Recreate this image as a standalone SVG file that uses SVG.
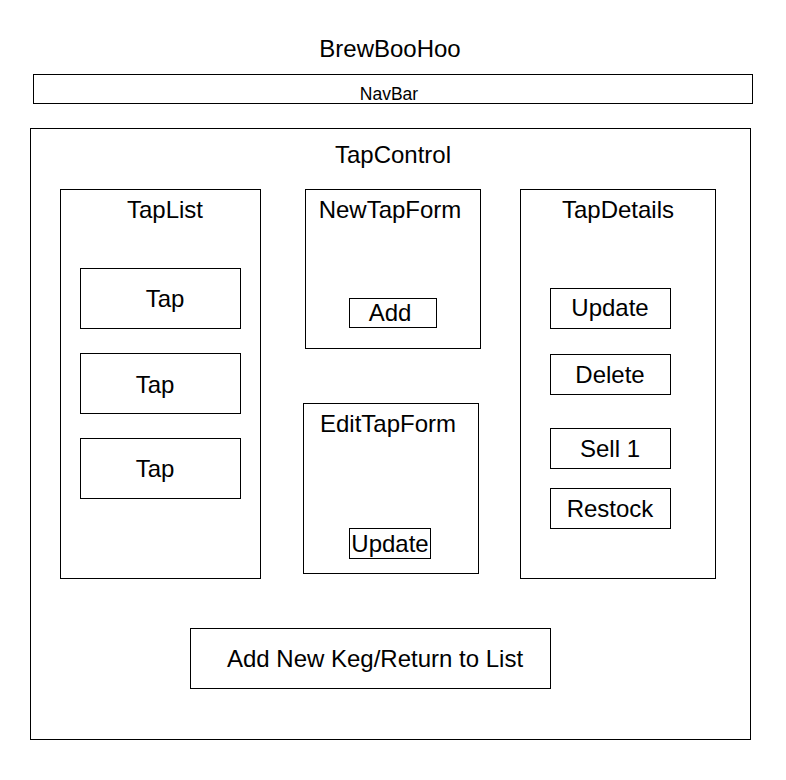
<svg xmlns="http://www.w3.org/2000/svg" width="786" height="780" viewBox="0 0 786 780">
<style>
rect{fill:#fff;stroke:#000;stroke-width:1}
text{font-family:"Liberation Sans",Arial,sans-serif;font-size:24px;fill:#000;text-anchor:middle}
.s{font-size:17.5px}
</style>
<rect x="0" y="0" width="786" height="780" style="stroke:none"/>
<g id="title"><text x="390" y="57">BrewBooHoo</text></g>
<g id="navbar"><rect x="33.5" y="74.5" width="719" height="29"/><text class="s" x="389" y="100">NavBar</text></g>
<g id="tapcontrol"><rect x="30.5" y="128.5" width="720" height="611"/><text x="393" y="163">TapControl</text></g>
<g id="taplist"><rect x="60.5" y="189.5" width="200" height="389"/><text x="165" y="218">TapList</text></g>
<g id="tap1"><rect x="80.5" y="268.5" width="160" height="60"/><text x="165" y="307">Tap</text></g>
<g id="tap2"><rect x="80.5" y="353.5" width="160" height="60"/><text x="155" y="393">Tap</text></g>
<g id="tap3"><rect x="80.5" y="438.5" width="160" height="60"/><text x="155" y="477">Tap</text></g>
<g id="newtapform"><rect x="305.5" y="189.5" width="175" height="159"/><text x="390" y="218">NewTapForm</text></g>
<g id="add"><rect x="349.5" y="298.5" width="87" height="29"/><text x="390" y="321">Add</text></g>
<g id="edittapform"><rect x="303.5" y="403.5" width="175" height="170"/><text x="388" y="432">EditTapForm</text></g>
<g id="edit-update"><rect x="349.5" y="528.5" width="81" height="30"/><text x="390" y="552">Update</text></g>
<g id="tapdetails"><rect x="520.5" y="189.5" width="195" height="389"/><text x="618" y="218">TapDetails</text></g>
<g id="update"><rect x="550.5" y="288.5" width="120" height="40"/><text x="610" y="316">Update</text></g>
<g id="delete"><rect x="550.5" y="354.5" width="120" height="40"/><text x="610" y="383">Delete</text></g>
<g id="sell"><rect x="550.5" y="428.5" width="120" height="40"/><text x="610" y="457">Sell 1</text></g>
<g id="restock"><rect x="550.5" y="488.5" width="120" height="40"/><text x="610" y="517">Restock</text></g>
<g id="addnew"><rect x="190.5" y="628.5" width="360" height="60"/><text x="375" y="667">Add New Keg/Return to List</text></g>
<g id="connectors"></g>
</svg>
